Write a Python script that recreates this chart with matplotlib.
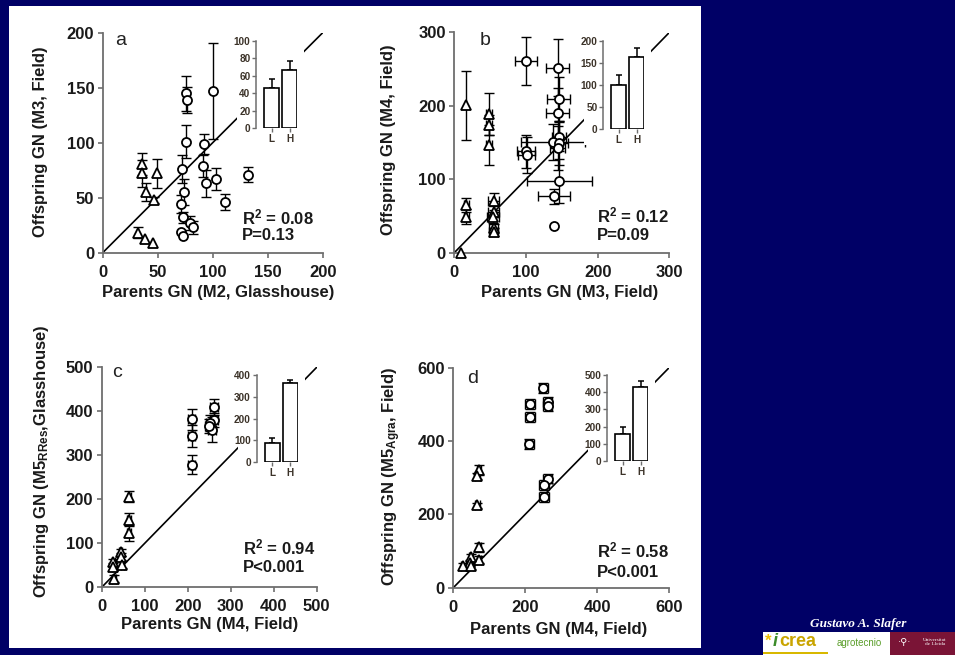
import matplotlib
matplotlib.use('Agg')
import matplotlib.pyplot as plt
from matplotlib.patches import Rectangle
import numpy as np

plt.rcParams['font.family'] = ['Liberation Sans', 'DejaVu Sans']
plt.rcParams['mathtext.fontset'] = 'custom'
plt.rcParams['mathtext.rm'] = 'Liberation Sans:bold'
plt.rcParams['mathtext.it'] = 'Liberation Sans:bold'
plt.rcParams['mathtext.bf'] = 'Liberation Sans:bold'
plt.rcParams['mathtext.default'] = 'rm'

# ---------------- data ----------------
# panel a
a_tri_x = [36, 36, 39, 49, 47, 32, 38, 46]
a_tri_y = [81, 72, 55, 72, 48, 18, 12, 9]
a_tri_yerr = [10, 12, 8, 13, 3, 5, 0, 0]
a_cir_x = [75.5, 77, 76, 100.5, 92, 91.5, 94, 103, 111, 132, 72, 74, 71, 73, 79, 82, 71, 73]
a_cir_y = [145, 139, 101, 147, 99, 79, 63, 67, 46, 71, 76, 55, 44, 32, 27, 23, 19, 15]
a_cir_yerr = [16, 12, 15, 44, 9, 10, 12, 10, 7.5, 6.5, 13, 12, 8, 5, 6, 6, 0, 0]

# panel b
b_tri_x = [17, 48, 48, 48, 17, 17, 55, 55, 54, 55, 55, 10]
b_tri_y = [201, 189, 174, 147, 65, 49, 70, 56, 48, 33, 28, 0]
b_tri_yerr = [47, 29, 14, 27, 9, 10, 12, 8, 8, 6, 5, 0]
b_tri_xerr = [0, 4, 4, 4, 3, 3, 8, 8, 8, 6, 6, 0]
b_cir_x = [100, 144, 146, 144, 146.5, 138, 146.5, 144, 100, 101, 146.5, 139, 139]
b_cir_y = [261, 252, 210, 190, 158, 151, 150, 143, 138, 133, 98, 77, 36]
b_cir_yerr = [33, 39, 30, 35, 20, 25, 30, 30, 22, 25, 30, 10, 0]
b_cir_xerr = [15, 16, 16, 16, 10, 45, 12, 10, 12, 12, 45, 22, 0]

# panel c
c_tri_x = [64, 63, 63, 44, 45, 48, 27, 27, 29]
c_tri_y = [206, 154, 124, 80, 70, 51, 57, 47, 20]
c_tri_yerr = [12, 14, 18, 8, 8, 8, 8, 8, 8]
c_tri_xerr = [4, 4, 4, 4, 4, 4, 4, 4, 4]
c_cir_x = [209, 209, 209, 261, 261, 252, 256, 250]
c_cir_y = [382, 344, 279, 410, 380, 373, 358, 366]
c_cir_yerr = [24, 26, 22, 18, 16, 18, 28, 16]
c_cir_xerr = [9, 9, 9, 9, 9, 9, 9, 9]

# panel d
d_tri_x = [72, 67, 67, 72, 72, 49, 46, 28, 49]
d_tri_y = [321, 305, 224, 110, 76, 83, 67, 60, 60]
d_tri_yerr = [14, 8, 8, 12, 10, 10, 8, 8, 8]
d_tri_xerr = [6, 6, 6, 6, 6, 6, 6, 6, 6]
d_cir_x = [250, 213, 213, 262, 262, 211, 262, 252, 252]
d_cir_y = [544, 500, 465, 507, 494, 392, 297, 280, 247]
d_cir_yerr = [13, 13, 13, 13, 13, 13, 13, 13, 13]
d_cir_xerr = [13, 13, 13, 13, 13, 13, 13, 13, 13]

# insets (L / H groups)
bar_labels = ['L', 'H']
a_bar = [46, 67]
a_bar_err = [10, 10]
b_bar = [100, 164]
b_bar_err = [23, 19]
c_bar = [90, 362]
c_bar_err = [23, 15]
d_bar = [157, 432]
d_bar_err = [43, 33]

# ---------------- figure ----------------
W, H = 955, 655
fig = plt.figure(figsize=(9.55, 6.55), dpi=100, facecolor='#000066')


def px_axes(x0, y0, x1, y1):
    return fig.add_axes([x0 / W, 1 - y1 / H, (x1 - x0) / W, (y1 - y0) / H])


fig.add_artist(Rectangle((9 / W, 1 - 647.7 / H), (701 - 9) / W, (647.7 - 5.7) / H,
                         transform=fig.transFigure, facecolor='white',
                         edgecolor='none', zorder=-1))

SPINE = '#6e6e6e'
INSET_TXT = '#3b3228'


def draw_points(ax, x, y, yerr, xerr, marker, ms):
    x = np.asarray(x, float)
    y = np.asarray(y, float)
    yerr = np.asarray(yerr, float)
    m = yerr > 0
    if m.any():
        ax.errorbar(x[m], y[m], yerr=yerr[m], fmt='none', ecolor='black',
                    elinewidth=1, capsize=3.4, capthick=1, zorder=3, clip_on=False)
    if xerr is not None:
        xerr = np.asarray(xerr, float)
        m = xerr > 0
        if m.any():
            ax.errorbar(x[m], y[m], xerr=xerr[m], fmt='none', ecolor='black',
                        elinewidth=1, capsize=3.4, capthick=1, zorder=3, clip_on=False)
    ax.plot(x, y, linestyle='none', marker=marker, ms=ms, mfc='white',
            mec='black', mew=1.3, zorder=4, clip_on=False)


def panel(box, lim, ticks, letter, letter_pos, xlabel, xlab_pos, ylabel, ylab_pos,
          stats, stats_pos, series, inset_box, inset_max, inset_ticks, bars, bar_err):
    ax = px_axes(*box)
    ax.set_facecolor('none')
    ax.set_xlim(0, lim)
    ax.set_ylim(0, lim)
    ax.set_xticks(ticks)
    ax.set_yticks(ticks)
    for s in ['top', 'right']:
        ax.spines[s].set_visible(False)
    for s in ['left', 'bottom']:
        ax.spines[s].set_color(SPINE)
        ax.spines[s].set_linewidth(1.3)
    ax.tick_params(axis='both', direction='out', length=3.6, width=1.2,
                   color=SPINE, labelsize=12, labelcolor='#1a1a1a')
    ax.tick_params(axis='x', pad=5)
    ax.tick_params(axis='y', pad=2.5)
    for lab in ax.get_xticklabels() + ax.get_yticklabels():
        lab.set_fontweight('bold')

    ax.plot([0, lim], [0, lim], color='black', lw=1.2, zorder=2)
    for (x, y, yerr, xerr, marker, ms) in series:
        draw_points(ax, x, y, yerr, xerr, marker, ms)

    ax.text(letter_pos[0], letter_pos[1], letter, transform=ax.transAxes,
            fontsize=14, color='#222222', va='baseline', ha='left')
    ax.set_xlabel(xlabel, fontsize=12, fontweight='bold', color='#1a1a1a',
                  ha='center', va='center')
    ax.xaxis.set_label_coords(*xlab_pos)
    ax.set_ylabel(ylabel, fontsize=12, fontweight='bold', color='#1a1a1a',
                  ha='center', va='center', rotation=90, rotation_mode='default')
    ax.yaxis.set_label_coords(*ylab_pos)
    ax.text(stats_pos[0], stats_pos[1], stats[0], transform=ax.transAxes,
            fontsize=12, fontweight='bold', color='#1a1a1a', va='center', ha='left')
    ax.text(stats_pos[0], stats_pos[2], stats[1], transform=ax.transAxes,
            fontsize=12, fontweight='bold', color='#1a1a1a', va='center', ha='left')

    # inset
    sx, top, bot = inset_box
    wpx = 41.0
    hpx = bot - top
    ins = px_axes(sx, top, sx + wpx, bot)
    ins.set_facecolor('white')
    ins.add_patch(Rectangle((-19 / wpx, -16 / hpx), 67 / wpx, 1 + 18 / hpx,
                            transform=ins.transAxes, facecolor='white',
                            edgecolor='none', zorder=0, clip_on=False))
    pos = np.arange(len(bars))
    ins.bar(pos, bars, width=0.83, color='white', edgecolor='black', lw=1.2, zorder=3)
    ins.errorbar(pos, bars, yerr=[np.zeros(len(bars)), bar_err], fmt='none',
                 ecolor='black', elinewidth=1.1, capsize=2.4, capthick=1.1, zorder=2)
    ins.set_xlim(-0.86, 1.42)
    ins.set_ylim(0, inset_max)
    ins.set_yticks(inset_ticks)
    ins.set_xticks(pos)
    ins.set_xticklabels(bar_labels)
    for s in ['top', 'right', 'bottom']:
        ins.spines[s].set_visible(False)
    ins.spines['left'].set_color(SPINE)
    ins.spines['left'].set_linewidth(1.1)
    ins.tick_params(axis='both', direction='out', length=3, width=1, color=SPINE,
                    labelsize=7.2, labelcolor=INSET_TXT, pad=1.2)
    for lab in ins.get_xticklabels() + ins.get_yticklabels():
        lab.set_fontweight('bold')
    return ax


panel((102.7, 32.7, 322.7, 252.7), 200, [0, 50, 100, 150, 200], 'a', (0.056, 0.944),
      'Parents GN (M2, Glasshouse)', (0.524, -0.183),
      'Offspring GN (M3, Field)', (-0.282, 0.503),
      ('R$^{2}$ = 0.08', 'P=0.13'), (0.632, 0.158, 0.076),
      [(a_tri_x, a_tri_y, a_tri_yerr, None, '^', 7.2),
       (a_cir_x, a_cir_y, a_cir_yerr, None, 'o', 6.5)],
      (256.3, 41, 128.3), 100, [0, 20, 40, 60, 80, 100], a_bar, a_bar_err)

panel((454.3, 32.5, 669.3, 252.7), 300, [0, 100, 200, 300], 'b', (0.12, 0.944),
      'Parents GN (M3, Field)', (0.538, -0.183),
      'Offspring GN (M4, Field)', (-0.304, 0.512),
      ('R$^{2}$ = 0.12', 'P=0.09'), (0.664, 0.167, 0.080),
      [(b_tri_x, b_tri_y, b_tri_yerr, b_tri_xerr, '^', 7.2),
       (b_cir_x, b_cir_y, b_cir_yerr, b_cir_xerr, 'o', 6.5)],
      (603.3, 41, 129), 200, [0, 50, 100, 150, 200], b_bar, b_bar_err)

panel((101.7, 367.3, 316.7, 587.3), 500, [0, 100, 200, 300, 400, 500], 'c', (0.047, 0.957),
      'Parents GN (M4, Field)', (0.5, -0.171),
      'Offspring GN (M5$_{RRes}$,Glasshouse)', (-0.282, 0.575),
      ('R$^{2}$ = 0.94', 'P<0.001'), (0.657, 0.179, 0.092),
      [(c_tri_x, c_tri_y, c_tri_yerr, c_tri_xerr, '^', 7.2),
       (c_cir_x, c_cir_y, c_cir_yerr, c_cir_xerr, 'o', 6.5)],
      (256.7, 375, 462.3), 400, [0, 100, 200, 300, 400], c_bar, c_bar_err)

panel((453.3, 367.5, 669.3, 587.7), 600, [0, 200, 400, 600], 'd', (0.062, 0.929),
      'Parents GN (M4, Field)', (0.486, -0.192),
      'Offspring GN (M5$_{Agra}$, Field)', (-0.285, 0.505),
      ('R$^{2}$ = 0.58', 'P<0.001'), (0.665, 0.167, 0.071),
      [(d_tri_x, d_tri_y, d_tri_yerr, d_tri_xerr, '^', 7.2),
       (d_cir_x, d_cir_y, d_cir_yerr, d_cir_xerr, 'o', 6.5)],
      (607.3, 375, 461), 500, [0, 100, 200, 300, 400, 500], d_bar, d_bar_err)

# ---------------- footer ----------------
fig.text(858 / W, 1 - 624 / H, 'Gustavo A. Slafer', color='white', fontsize=9.5,
         fontweight='bold', fontstyle='italic', family=['Liberation Serif', 'DejaVu Serif'],
         ha='center', va='center')
fig.add_artist(Rectangle((763 / W, 0), (890 - 763) / W, (655 - 632) / H,
                         transform=fig.transFigure, facecolor='white', edgecolor='none'))
fig.add_artist(Rectangle((890 / W, 0), (955 - 890) / W, (655 - 632) / H,
                         transform=fig.transFigure, facecolor='#7a1436', edgecolor='none'))
fig.add_artist(Rectangle((763 / W, 1 - 654 / H), (828 - 763) / W, 2 / H,
                         transform=fig.transFigure, facecolor='#d8b800', edgecolor='none'))
fig.text(765 / W, 1 - 641 / H, '*', color='#f0c000', fontsize=12, fontweight='bold',
         ha='left', va='center')
fig.text(773 / W, 1 - 642 / H, 'i', color='#3c8c2a', fontsize=13, fontweight='bold',
         fontstyle='italic', ha='left', va='center')
fig.text(779 / W, 1 - 642 / H, 'crea', color='#c9a400', fontsize=13, fontweight='bold',
         ha='left', va='center')
fig.text(859 / W, 1 - 643 / H, 'agrotecnio', color='#5a9e2a', fontsize=7,
         ha='center', va='center')
fig.text(905 / W, 1 - 642 / H, '·⚲·', color='white', fontsize=7, ha='center', va='center')
fig.text(935 / W, 1 - 642 / H, 'Universitat\nde Lleida', color='white', fontsize=3.8,
         family=['Liberation Serif', 'DejaVu Serif'], ha='center', va='center',
         linespacing=1.1)

fig.savefig('out.png', dpi=100, facecolor=fig.get_facecolor())
